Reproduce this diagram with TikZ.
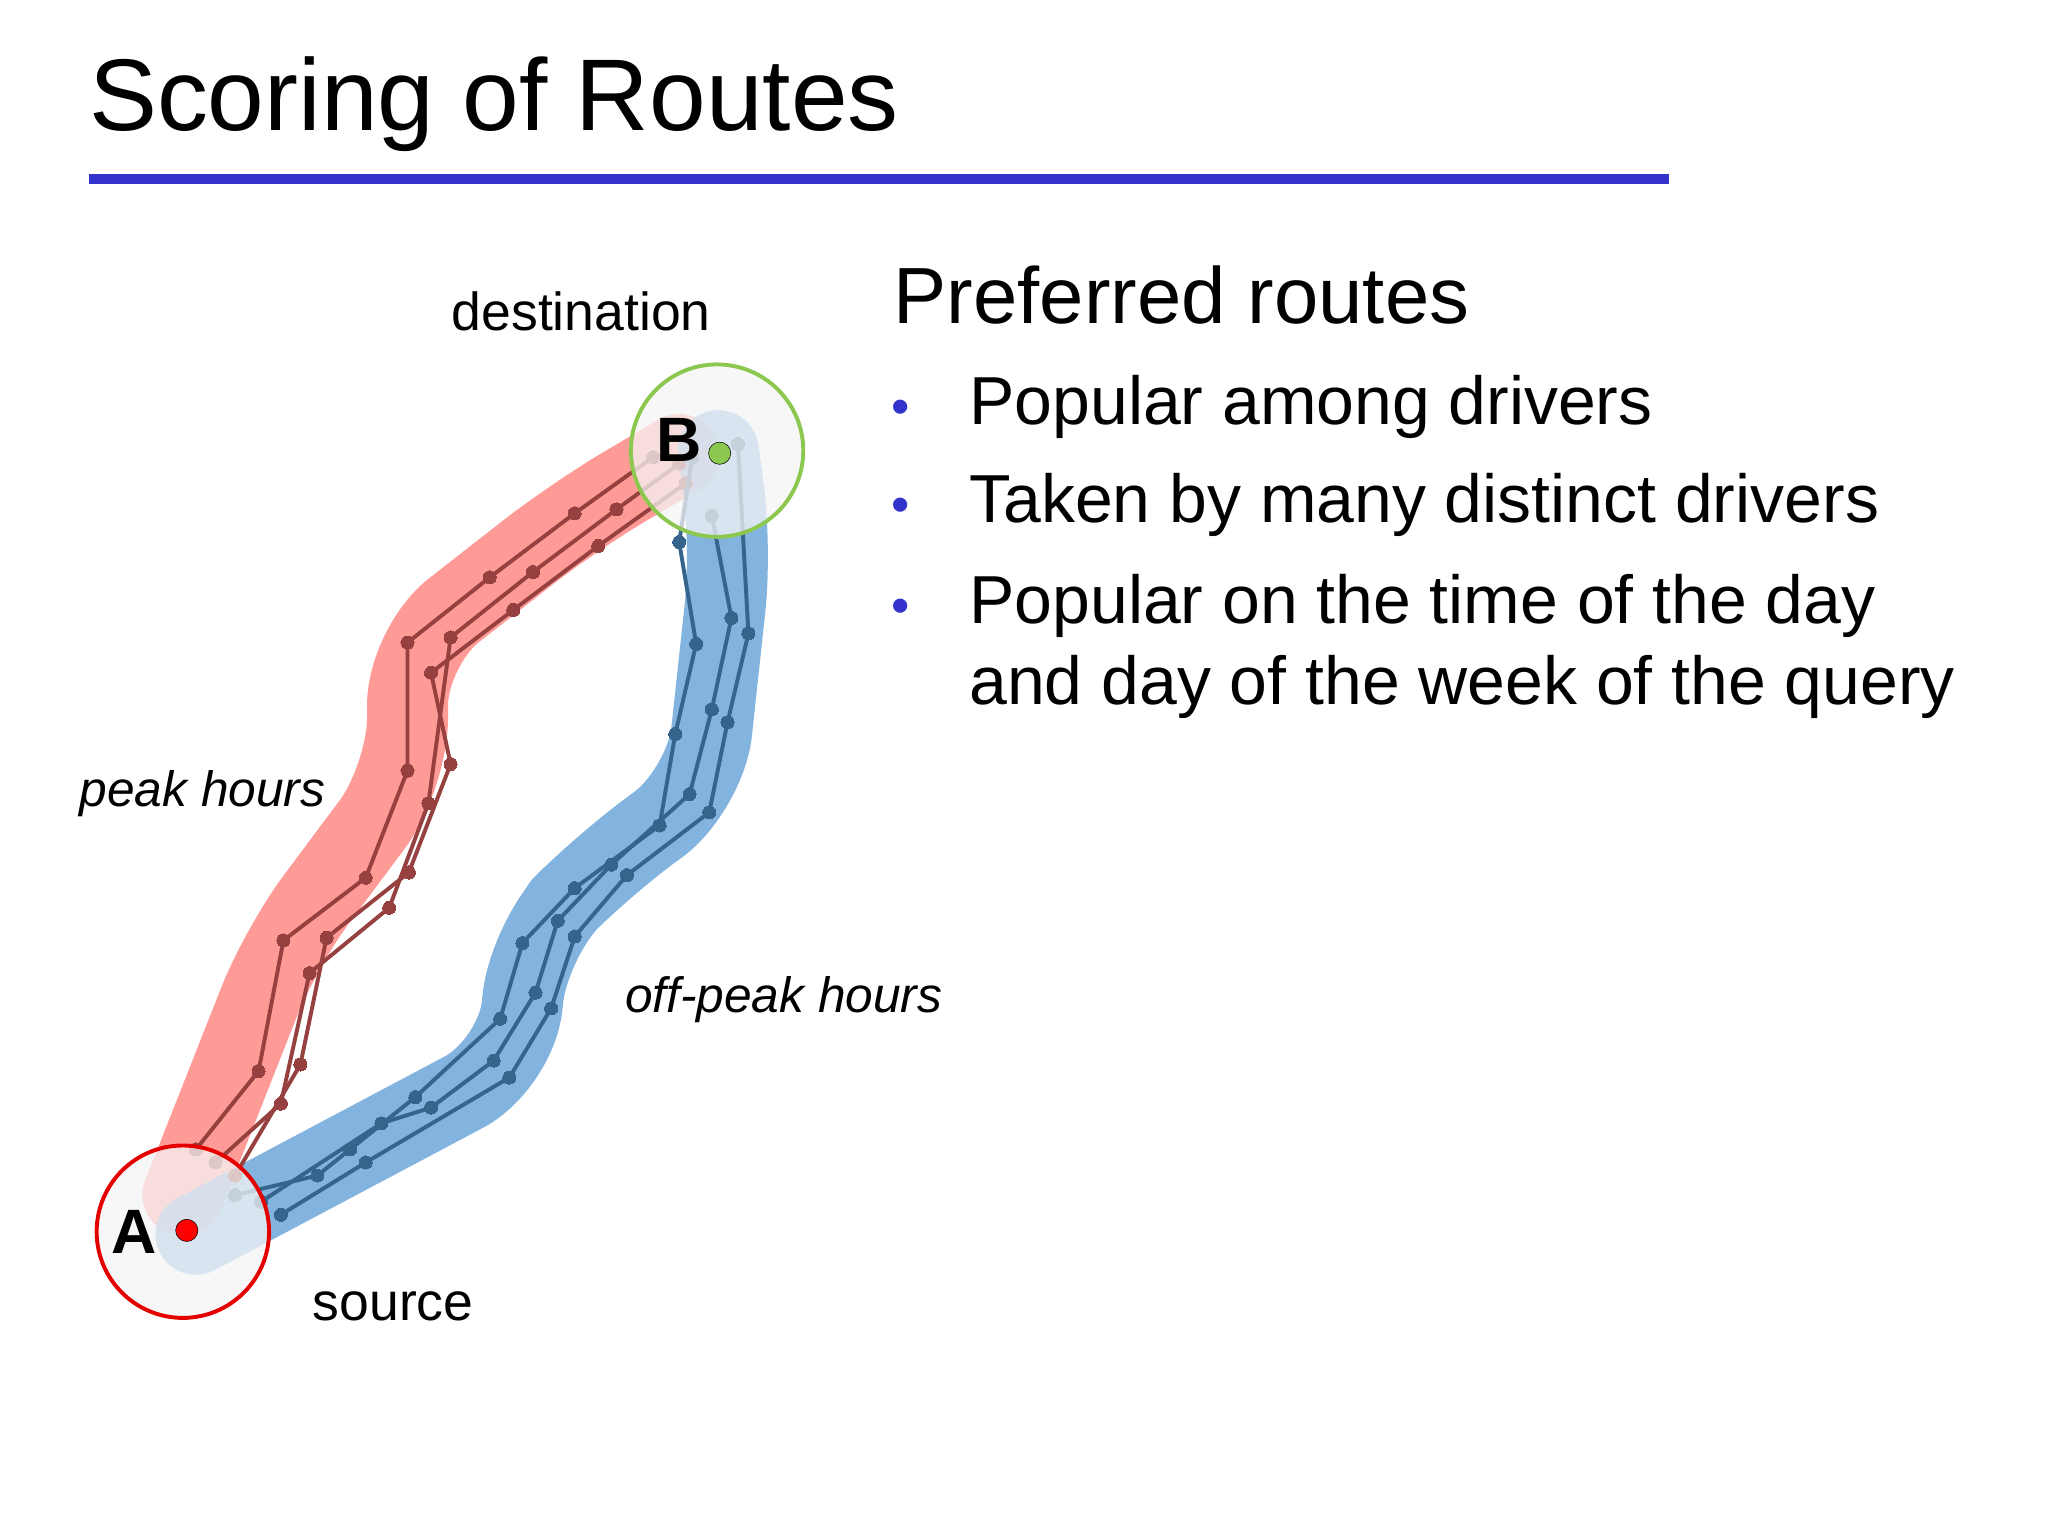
\documentclass[tikz,border=0pt]{standalone}
\usepackage{fontspec}
\setmainfont{Liberation Sans}
\colorlet{rdk}{red!45!black!75}
\definecolor{bdk}{RGB}{55,100,140}
\begin{document}
\begin{tikzpicture}[x=1pt,y=-1pt,
  band/.style={line width=62pt,line join=round,line cap=round,opacity=0.8,rounded corners=45pt},
  rline/.style={draw=rdk,line width=3pt,line join=round,mark=*,mark size=5pt,mark options={solid,fill=rdk,draw=rdk,line width=0pt}},
  bline/.style={draw=bdk,line width=3pt,line join=round,mark=*,mark size=5pt,mark options={solid,fill=bdk,draw=bdk,line width=0pt}},
  lbl/.style={font=\fontsize{40}{46}\selectfont,inner sep=0pt},
  bul/.style={font=\fontsize{52}{60}\selectfont,anchor=base west,inner sep=0pt}]
\useasboundingbox (0,0) rectangle (1568,1176);
\fill[white] (0,0) rectangle (1568,1176);
\node[anchor=base west,inner sep=0pt,font=\fontsize{78}{88}\selectfont] (title) at (68,100) {Scoring of Routes};
\draw[line width=8pt,color={rgb,255:red,51;green,51;blue,204}] (68,137) coordinate (u1) -- (1278,137) coordinate (u2);
% bands
\draw[band,color={rgb,255:red,255;green,130;blue,125}] (140,915) -- (215,725) -- (312,595) -- (312,495) -- (440,395) -- (520,348);
\draw[band,color={rgb,255:red,100;green,160;blue,215}] (150,945) -- (395,815) -- (405,720) -- (462,662) -- (540,605) -- (560,420) -- (550,345);
% red lines
\draw[rline] plot coordinates {(150,880) (198,820) (217,720) (280,672) (312,590) (312,492) (375,442) (440,393) (500,350)};
\draw[rline] plot coordinates {(165,890) (215,845) (237,745) (298,695) (328,615) (345,488) (408,438) (472,390) (520,355)};
\draw[rline] plot coordinates {(180,900) (230,815) (250,718) (313,668) (345,585) (330,515) (393,467) (458,418) (525,370)};
% blue lines
\draw[bline] plot coordinates {(180,915) (243,900) (268,880) (318,840) (383,780) (400,722) (440,680) (505,632) (517,562) (533,493) (520,415) (530,350)};
\draw[bline] plot coordinates {(200,920) (292,860) (330,848) (378,812) (410,760) (427,705) (468,662) (528,608) (545,543) (560,473) (545,395)};
\draw[bline] plot coordinates {(215,930) (280,890) (390,825) (422,772) (440,717) (480,670) (543,622) (557,553) (573,485) (565,340)};
% circles
\node[circle,minimum size=132pt,draw=red!90!black,line width=3pt,fill=gray!8,fill opacity=0.75] (A) at (140,943) {};
\node[circle,minimum size=132pt,draw={rgb,255:red,140;green,200;blue,80},line width=3pt,fill=gray!8,fill opacity=0.75] (B) at (549,345) {};
\node[circle,fill=red,draw=black,inner sep=0pt,minimum size=17pt] (a) at (143,942) {};
\node[circle,fill={rgb,255:red,140;green,200;blue,80},draw=black,inner sep=0pt,minimum size=17pt] (b) at (551,347) {};
\node[font=\bfseries\fontsize{48}{50}\selectfont,inner sep=0pt] (Al) at (103,943) {A};
\node[font=\bfseries\fontsize{48}{50}\selectfont,inner sep=0pt] (Bl) at (520,337) {B};
\node[lbl,font=\fontsize{41}{46}\selectfont] (dest) at (445,238) {destination};
\node[lbl,font=\fontsize{41}{46}\selectfont] (src) at (301,1000) {source};
\node[lbl,font=\itshape\fontsize{38}{44}\selectfont] (peak) at (155,608) {peak hours};
\node[lbl,font=\itshape\fontsize{38}{44}\selectfont] (off) at (600,765) {off-peak hours};
% right text
\node[anchor=base west,inner sep=0pt,font=\fontsize{61}{70}\selectfont] (pr) at (684,248) {Preferred routes};
\foreach \y/\t in {325/{Popular among drivers},400/{Taken by many distinct drivers},477/{Popular on the time of the day}}{
  \node[bul,text={rgb,255:red,51;green,51;blue,204},font=\fontsize{40}{48}\selectfont] at (682,\y) {•};
  \node[bul] at (742,\y) {\t};}
\node[bul] (l4) at (742,539) {and day of the week of the query};
\end{tikzpicture}
\end{document}
